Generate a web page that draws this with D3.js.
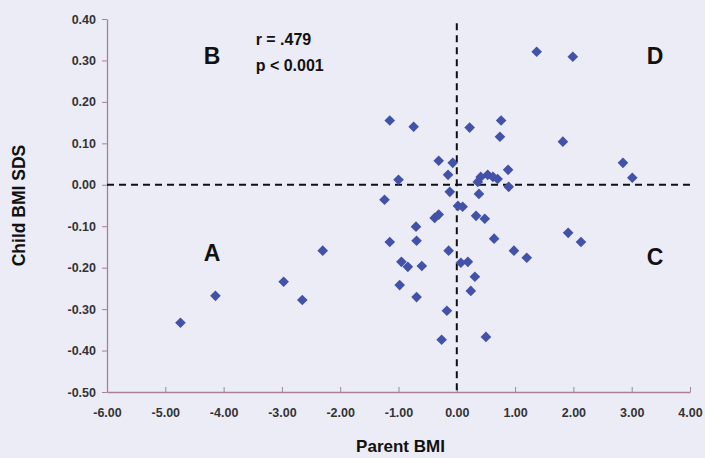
<!DOCTYPE html>
<html lang="en">
    <head>
        <meta charset="UTF-8">
        <title>Parent vs Child BMI</title>
        <script src="https://d3js.org/d3.v7.min.js"></script>
        <style>
            body{ margin:0; background:#ececf6; }
            svg{ display:block; background-color:#ececf6; }
        </style>
    </head>
    <body>
        <script>
            // values
            const parentBMI = [-4.74,-4.14,-2.97,-2.65,-2.30,-1.15,-0.74,-1.24,-1.00,-1.15,-0.95,-0.84,-0.60,-0.98,-0.69,-0.69,-0.70,
                -0.31,-0.07,-0.15,-0.38,-0.31,-0.12,-0.14,0.07,0.19,0.02,0.10,-0.17,-0.26,0.50,0.22,0.76,0.74,0.88,0.41,0.53,0.62,
                0.70,0.36,0.89,0.38,0.33,0.48,0.31,0.24,0.64,0.98,1.20,1.37,1.99,1.82,2.85,3.01,1.91,2.13]
            const childSDS = [-0.333,-0.268,-0.234,-0.278,-0.159,0.155,0.140,-0.036,0.012,-0.138,-0.186,-0.198,-0.196,-0.242,-0.271,-0.135,-0.101,
                0.058,0.053,0.024,-0.080,-0.072,-0.017,-0.159,-0.188,-0.186,-0.051,-0.053,-0.304,-0.374,-0.367,0.138,0.155,0.116,0.036,0.019,0.024,0.019,
                0.014,0.007,-0.005,-0.022,-0.075,-0.082,-0.222,-0.256,-0.130,-0.159,-0.176,0.321,0.309,0.104,0.053,0.017,-0.116,-0.138]
            const xTicks = [-6,-5,-4,-3,-2,-1,0,1,2,3,4]
            const yTicks = [0.4,0.3,0.2,0.1,0,-0.1,-0.2,-0.3,-0.4,-0.5]
            const quadrants = [{label:"A",x:-4.2,y:-0.165},{label:"B",x:-4.2,y:0.31},{label:"C",x:3.4,y:-0.175},{label:"D",x:3.4,y:0.31}]
            const statsText = ["r = .479","p < 0.001"]

            const data = parentBMI.map((d,i)=>({x:d, y:childSDS[i]}))

            const margin = {top: 19, right: 15, bottom: 66, left: 107},
                width = 705 - margin.left - margin.right,
                height = 458 - margin.top - margin.bottom;

            const svg = d3.select("body").append("svg")
                .attr("width",705).attr("height",458)
            const g = svg.append("g").attr("transform",`translate(${margin.left},${margin.top})`)

            const xScale = d3.scaleLinear().domain([-6,4]).range([0,width])
            const yScale = d3.scaleLinear().domain([-0.5,0.4]).range([height,0])

            const axisColor = "#a9809c"
            const font = "'Liberation Sans', Arial, sans-serif"
            const fmt = d => d3.format(".2f")(d).replace("\u2212","-")

            const xAxis = d3.axisBottom(xScale).tickValues(xTicks).tickFormat(fmt).tickSizeInner(-5).tickSizeOuter(0).tickPadding(16)
            const gx = g.append("g").attr("transform",`translate(0,${height})`).call(xAxis)
            const yAxis = d3.axisLeft(yScale).tickValues(yTicks).tickFormat(fmt).tickSizeInner(5).tickSizeOuter(0).tickPadding(6)
            const gy = g.append("g").call(yAxis)

            ;[gx,gy].forEach(a=>{
                a.select(".domain").attr("stroke",axisColor).attr("stroke-width",1.3)
                a.selectAll(".tick line").attr("stroke",axisColor)
                a.selectAll("text").attr("fill","#333").style("font-family",font).style("font-size","12.5px").style("font-weight","bold")
            })

            // reference lines at zero
            g.append("line").attr("x1",xScale(-6)).attr("x2",xScale(4)).attr("y1",yScale(0)).attr("y2",yScale(0))
                .attr("stroke","#111").attr("stroke-width",2).attr("stroke-dasharray","7,5")
            g.append("line").attr("x1",xScale(0)).attr("x2",xScale(0)).attr("y1",yScale(0.39)).attr("y2",yScale(-0.5))
                .attr("stroke","#111").attr("stroke-width",2).attr("stroke-dasharray","7,5")

            // points
            g.append("g").selectAll("path").data(data).enter().append("path")
                .attr("d",d3.symbol().type(d3.symbolDiamond2).size(72))
                .attr("transform",d=>`translate(${xScale(d.x)},${yScale(d.y)})`)
                .attr("fill","#4252a8")

            // quadrant letters
            g.append("g").selectAll("text").data(quadrants).enter().append("text")
                .attr("x",d=>xScale(d.x)).attr("y",d=>yScale(d.y))
                .attr("text-anchor","middle").attr("dy","0.35em")
                .style("font-family",font).style("font-weight","bold").style("font-size","23px")
                .attr("fill","#111").text(d=>d.label)

            g.append("g").selectAll("text").data(statsText).enter().append("text")
                .attr("x",xScale(-3.45)).attr("y",(d,i)=>yScale(0.35 - i*0.063))
                .attr("dy","0.35em")
                .style("font-family",font).style("font-weight","bold").style("font-size","16px")
                .attr("fill","#111").text(d=>d)

            // axis titles
            svg.append("text").attr("x",margin.left+width/2+2).attr("y",452).attr("text-anchor","middle")
                .style("font-family",font).style("font-weight","bold").style("font-size","17px").attr("fill","#111").text("Parent BMI")
            svg.append("text").attr("transform",`translate(25,${margin.top+height/2})rotate(-90)`).attr("text-anchor","middle")
                .style("font-family",font).style("font-weight","bold").style("font-size","17.5px").attr("fill","#111").text("Child BMI SDS")
        </script>
    </body>
</html>
